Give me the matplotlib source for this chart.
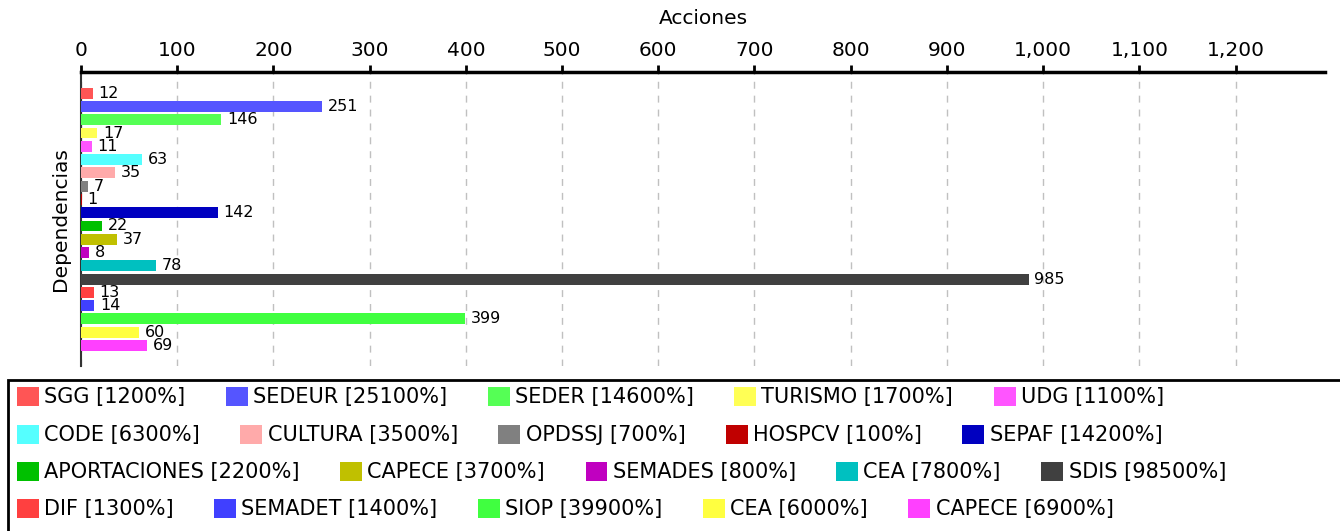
import matplotlib
matplotlib.use("Agg")
import matplotlib.pyplot as plt
from matplotlib.patches import Rectangle
from matplotlib.ticker import FuncFormatter, MultipleLocator

dependencias = ["SGG", "SEDEUR", "SEDER", "TURISMO", "UDG",
                "CODE", "CULTURA", "OPDSSJ", "HOSPCV", "SEPAF",
                "APORTACIONES", "CAPECE", "SEMADES", "CEA", "SDIS",
                "DIF", "SEMADET", "SIOP", "CEA", "CAPECE"]
acciones = [12, 251, 146, 17, 11,
            63, 35, 7, 1, 142,
            22, 37, 8, 78, 985,
            13, 14, 399, 60, 69]
colores = ["#FF5555", "#5555FF", "#55FF55", "#FFFF55", "#FF55FF",
           "#55FFFF", "#FFAAAA", "#808080", "#C00000", "#0000C0",
           "#00C000", "#C0C000", "#C000C0", "#00C0C0", "#404040",
           "#FF4040", "#4040FF", "#40FF40", "#FFFF40", "#FF40FF"]

W, H = 1340, 531
fig = plt.figure(figsize=(W / 100, H / 100), dpi=100)
ax = fig.add_axes([81 / W, 1 - 366 / H, (1325 - 81) / W, (366 - 72) / H])

handles = []
for i, (name, val, col) in enumerate(zip(dependencias, acciones, colores)):
    b = ax.barh(i, val, height=0.82, color=col, label=f"{name} [{val * 100}%]", zorder=3)
    handles.append(b)
    ax.text(val + 6, i, f"{val}", va="center", ha="left", fontsize=11.5, zorder=4)

ax.set_ylim(len(acciones) - 1 + 1.55, -1.6)
ax.set_xlim(0, 1293)
ax.xaxis.set_major_locator(MultipleLocator(100))
ax.xaxis.set_major_formatter(FuncFormatter(lambda v, p: f"{int(v):,}"))
ax.xaxis.tick_top()
ax.xaxis.set_label_position("top")
ax.set_xlabel("Acciones", fontsize=14.5, labelpad=12)
ax.set_ylabel("Dependencias", fontsize=14.5, labelpad=8)
ax.set_yticks([])
ax.tick_params(axis="x", which="major", labelsize=14.5, length=5, width=2, direction="out", pad=4)
ax.grid(axis="x", color="#c0c0c0", linestyle=(0, (5, 5)), linewidth=1, zorder=0)

for s in ["right", "bottom"]:
    ax.spines[s].set_visible(False)
ax.spines["top"].set_linewidth(2.5)
ax.spines["left"].set_linewidth(1.5)
ax.spines["left"].set_color("#333333")

# Legend box
fig.add_artist(Rectangle((8 / W, -0.05), 1.2, 1 - 380 / H + 0.05, transform=fig.transFigure,
                         fill=False, edgecolor="black", linewidth=2))

row_y = [397, 435, 472, 509]
for r in range(4):
    hs = handles[r * 5:(r + 1) * 5]
    labs = [h.get_label() for h in hs]
    fig.legend(hs, labs, loc="center left", bbox_to_anchor=(17 / W, 1 - row_y[r] / H),
               ncol=5, frameon=False, fontsize=15, borderpad=0, borderaxespad=0,
               handlelength=1.05, handleheight=1.05, handletextpad=0.25,
               columnspacing=1.95)

fig.savefig("out.png", dpi=100)
